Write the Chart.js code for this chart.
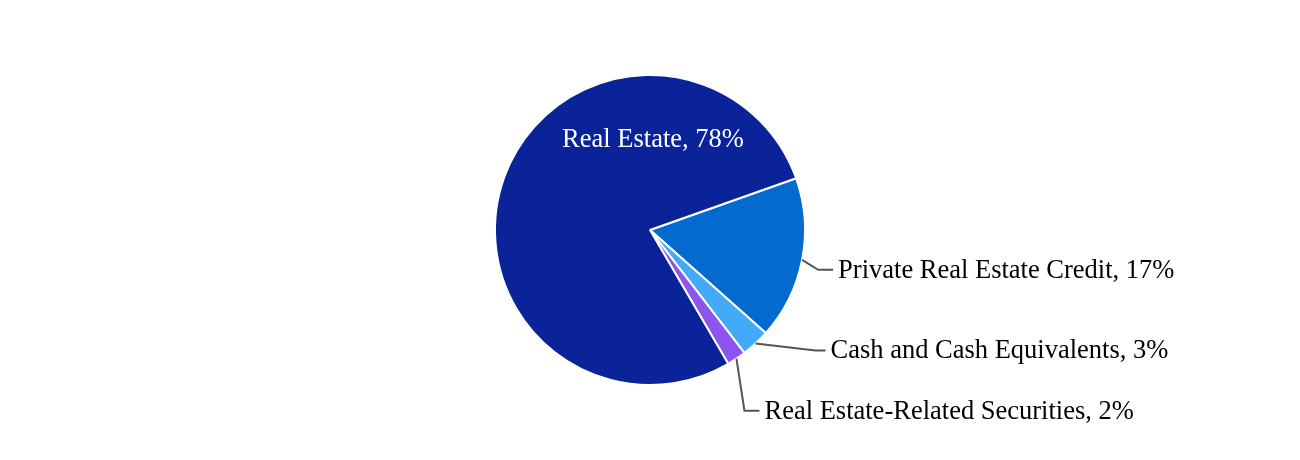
<!DOCTYPE html>
<html>
<head>
<meta charset="utf-8">
<script src="https://cdn.jsdelivr.net/npm/chart.js@4/dist/chart.umd.min.js"></script>
<style>
  html, body { margin: 0; padding: 0; background: #fff; }
  #wrap { width: 1300px; height: 460px; }
</style>
</head>
<body>
<div id="wrap"><canvas id="pie"></canvas></div>
<script>
const categories = ['Private Real Estate Credit', 'Cash and Cash Equivalents', 'Real Estate-Related Securities', 'Real Estate'];
const shares = [17, 3, 2, 78];
const sliceColors = ['#036bd0', '#43aaf8', '#8b55ee', '#0b2399'];

// where each label sits relative to its slice edge: elbow offset, then a short horizontal run
const labelLayout = [
    { inside: false, dx: 16, dy: 10, run: 15 },
    { inside: false, dx: 60, dy: 7, run: 10 },
    { inside: false, dx: 8, dy: 52, run: 15 },
    { inside: true, x: 3, y: -90 }
];

const labelPlugin = {
    id: 'pieLabels',
    afterDatasetsDraw(chart) {
        const ctx = chart.ctx;
        const arcs = chart.getDatasetMeta(0).data;
        ctx.save();
        ctx.font = '26.5px "Liberation Serif", "Times New Roman", serif';
        ctx.textBaseline = 'middle';
        arcs.forEach((arc, i) => {
            const text = categories[i] + ', ' + shares[i] + '%';
            const lay = labelLayout[i];
            if (lay.inside) {
                ctx.fillStyle = '#ffffff';
                ctx.textAlign = 'center';
                ctx.fillText(text, arc.x + lay.x, arc.y + lay.y);
                return;
            }
            const mid = (arc.startAngle + arc.endAngle) / 2;
            const sx = arc.x + Math.cos(mid) * arc.outerRadius;
            const sy = arc.y + Math.sin(mid) * arc.outerRadius;
            const ex = sx + lay.dx, ey = sy + lay.dy;
            ctx.strokeStyle = '#555555';
            ctx.lineWidth = 2;
            ctx.beginPath();
            ctx.moveTo(sx, sy);
            ctx.lineTo(ex, ey);
            ctx.lineTo(ex + lay.run, ey);
            ctx.stroke();
            ctx.fillStyle = '#000000';
            ctx.textAlign = 'left';
            ctx.fillText(text, ex + lay.run + 5, ey + 1);
        });
        ctx.restore();
    }
};

new Chart(document.getElementById('pie'), {
    type: 'pie',
    data: {
        labels: categories,
        datasets: [{
            data: shares,
            backgroundColor: sliceColors,
            borderColor: '#ffffff',
            borderWidth: 2
        }]
    },
    options: {
        responsive: true,
        maintainAspectRatio: false,
        animation: false,
        rotation: 70.5,
        layout: { padding: { top: 74, bottom: 74 } },
        plugins: { legend: { display: false }, tooltip: { enabled: false } }
    },
    plugins: [labelPlugin]
});
</script>
</body>
</html>
